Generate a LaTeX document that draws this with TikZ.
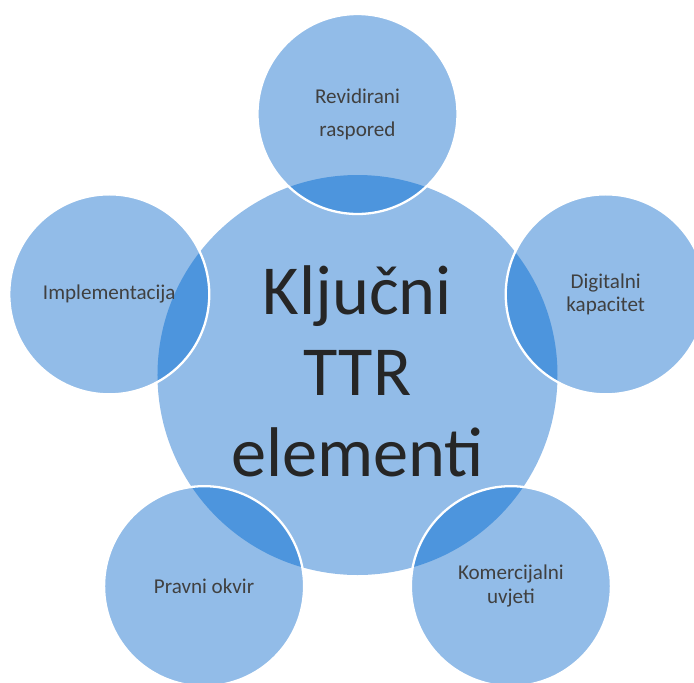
\documentclass[tikz,border=0pt]{standalone}
\usepackage{fontspec}
\setmainfont{Carlito}
\usepackage{xcolor}
\definecolor{ttrlight}{RGB}{146,188,232}
\definecolor{ttrdark}{RGB}{77,149,221}
\definecolor{ttrgrey}{RGB}{64,64,64}
\definecolor{ttrblack}{RGB}{38,38,38}

\tikzset{
  satlabel/.style={align=center, text=ttrgrey, font=\fontsize{12}{13.6}\selectfont},
  hublabel/.style={align=center, text=ttrblack, font=\fontsize{40}{46}\selectfont}
}

\begin{document}
\begin{tikzpicture} %key TTR elements
\def \ringr{5.22}
\def \hub{(centre) circle (4)}

	%page frame, the right circle runs off the edge
\useasboundingbox (-7.15,-6.14) rectangle (6.73,7.5);
\clip (-7.15,-6.14) rectangle (6.73,7.5);

	%centres of the hub and the five satellites
\coordinate (centre) at (0,0);
\foreach \name/\ang in {revid/90, digit/18, komer/-54, pravni/-126, impl/162}
  \coordinate (\name) at (\ang:\ringr);
	%end of coordinate code

\fill [ttrlight] \hub;
\foreach \name in {revid, digit, komer, pravni, impl}
  \fill [ttrlight] (\name) circle (2);

\begin{scope}
\clip \hub;
\foreach \name in {revid, digit, komer, pravni, impl}
  \fill [ttrdark] (\name) circle (2);
\end{scope}

	%white rims of the satellites
\foreach \name in {revid, digit, komer, pravni, impl}
  \draw [white, line width=1.3pt] (\name) circle (2);

\node [hublabel] (hubtxt) at (0,0.07) {Ključni\\TTR\\elementi};
\node [satlabel, font=\fontsize{12}{18.7}\selectfont] (revidtxt) at (revid) {Revidirani\\raspored};
\node [satlabel] (digittxt) at (digit) {Digitalni\\kapacitet};
\node [satlabel] (komertxt) at (komer) {Komercijalni\\uvjeti};
\node [satlabel] (pravnitxt) at (pravni) {Pravni okvir};
\node [satlabel] (impltxt) at (impl) {Implementacija};

\end{tikzpicture}
\end{document}
